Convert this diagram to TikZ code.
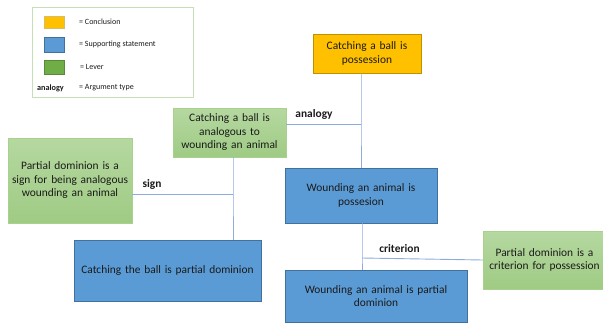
\documentclass[tikz,border=0pt]{standalone}
\usepackage{fontspec}
\setmainfont{Carlito}
\definecolor{cyellow}{HTML}{FFC000}
\definecolor{cyellowb}{HTML}{BF9000}
\definecolor{cblue}{HTML}{5B9BD5}
\definecolor{cblueb}{HTML}{41719C}
\definecolor{cgreenT}{HTML}{B5D8A0}
\definecolor{cgreenB}{HTML}{9FCB84}
\definecolor{cgreenb}{HTML}{A9D18E}
\definecolor{cgreenS}{HTML}{70AD47}
\definecolor{cline}{HTML}{8FAADC}
\definecolor{clegend}{HTML}{C5E0B4}
\definecolor{ctext}{HTML}{1A1A1A}
\tikzset{
  box/.style={rectangle, inner sep=2pt, align=center, font=\fontsize{11.4}{13.5}\selectfont, text=ctext},
  concl/.style={box, fill=cyellow, draw=cyellowb, line width=0.8pt},
  supp/.style={box, fill=cblue, draw=cblueb, line width=0.8pt},
  lever/.style={box, top color=cgreenT, bottom color=cgreenB, draw=cgreenb, line width=0.8pt},
  conn/.style={draw=cline, line width=0.9pt},
  argtype/.style={font=\bfseries\fontsize{11.4}{13}\selectfont, text=ctext, inner sep=0pt},
  legtext/.style={font=\fontsize{8}{9}\selectfont, text=ctext, anchor=west, inner sep=0pt},
  swatch/.style={rectangle, minimum width=20pt, minimum height=12pt, inner sep=0pt, line width=0.6pt},
}
\begin{document}
\begin{tikzpicture}[x=1pt,y=-1pt]
\useasboundingbox (0,0) rectangle (603,325);
% legend
\node[draw=clegend, line width=0.8pt, minimum width=161pt, minimum height=90pt, inner sep=0pt] (legend) at (112.5,52) {};
\node[swatch, fill=cyellow, draw=cyellowb!60] (sw1) at (54,22.5) {};
\node[swatch, fill=cblue, draw=cblueb, minimum height=15pt] (sw2) at (54,44.5) {};
\node[swatch, fill=cgreenS, draw=cgreenS!80!black, minimum height=14pt] (sw3) at (54,67) {};
\node[font=\bfseries\fontsize{8.2}{9}\selectfont, text=ctext, inner sep=0pt] (sw4) at (50.5,88) {analogy};
\node[legtext] (l1) at (79,22) {= Conclusion};
\node[legtext] (l2) at (79,44) {= Supporting statement};
\node[legtext] (l3) at (80,67) {= Lever};
\node[legtext] (l4) at (79,88) {= Argument type};
% boxes
\node[concl, minimum width=108pt, minimum height=39pt, text width=100pt] (c) at (367,53.5) {Catching a ball is\\possession};
\node[lever, minimum width=113pt, minimum height=49pt, text width=108pt] (an) at (229.5,132.5) {Catching a ball is\\analogous to\\wounding an animal};
\node[lever, minimum width=124pt, minimum height=85pt, text width=120pt] (sg) at (70,180.5) {Partial dominion is a\\sign for being analogous\\wounding an animal};
\node[supp, minimum width=187pt, minimum height=61pt, text width=180pt] (bp) at (167.5,270.5) {Catching the ball is partial dominion};
\node[supp, minimum width=152pt, minimum height=55pt, text width=145pt] (wp) at (361,195.5) {Wounding an animal is\\possesion};
\node[supp, minimum width=182pt, minimum height=52pt, text width=175pt] (wd) at (376,296) {Wounding an animal is partial\\dominion};
\node[lever, minimum width=121pt, minimum height=58pt, text width=118pt] (cr) at (544.5,260) {Partial dominion is a\\criterion for possession};
% junctions
\coordinate (j1) at (361,124);
\coordinate (j2) at (233,194);
\coordinate (j3) at (362,258);
% connectors
\draw[conn] (c.south -| j1) -- (j1) -- (wp.north -| j1);
\draw[conn] (an.east |- j1) -- (j1);
\draw[conn] (an.south -| j2) -- (j2) -- (bp.north -| j2);
\draw[conn] (sg.east |- j2) -- (j2);
\draw[conn] (wp.south -| j3) -- (j3) -- (wd.north -| j3);
\draw[conn] (j3) -- (cr.west);
% labels
\node[argtype] (la) at (314,114) {analogy};
\node[argtype] (ls) at (152,184) {sign};
\node[argtype] (lc) at (399.5,248.5) {criterion};
\end{tikzpicture}
\end{document}
